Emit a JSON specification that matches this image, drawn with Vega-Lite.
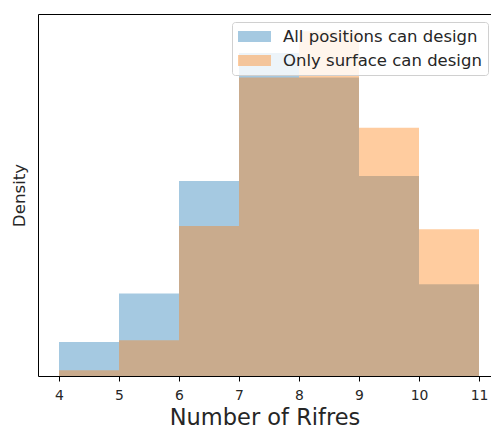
{
  "$schema": "https://vega.github.io/schema/vega-lite/v6.json",
  "autosize": {"type": "none"},
  "padding": {"left": 38, "top": 14, "right": 0, "bottom": 55},
  "width": 453,
  "height": 362,
  "background": "white",
  "config": {
    "view": {"stroke": "#000000", "strokeWidth": 1},
    "font": "DejaVu Sans"
  },
  "data": {
    "values": [
      {"series": "All positions can design", "bin_start": 4, "bin_end": 5, "density": 0.0277},
      {"series": "All positions can design", "bin_start": 5, "bin_end": 6, "density": 0.0672},
      {"series": "All positions can design", "bin_start": 6, "bin_end": 7, "density": 0.1589},
      {"series": "All positions can design", "bin_start": 7, "bin_end": 8, "density": 0.2632},
      {"series": "All positions can design", "bin_start": 8, "bin_end": 9, "density": 0.2432},
      {"series": "All positions can design", "bin_start": 9, "bin_end": 10, "density": 0.1630},
      {"series": "All positions can design", "bin_start": 10, "bin_end": 11, "density": 0.0747},
      {"series": "Only surface can design", "bin_start": 4, "bin_end": 5, "density": 0.0046},
      {"series": "Only surface can design", "bin_start": 5, "bin_end": 6, "density": 0.0291},
      {"series": "Only surface can design", "bin_start": 6, "bin_end": 7, "density": 0.1222},
      {"series": "Only surface can design", "bin_start": 7, "bin_end": 8, "density": 0.2432},
      {"series": "Only surface can design", "bin_start": 8, "bin_end": 9, "density": 0.2809},
      {"series": "Only surface can design", "bin_start": 9, "bin_end": 10, "density": 0.2024},
      {"series": "Only surface can design", "bin_start": 10, "bin_end": 11, "density": 0.1196}
    ]
  },
  "mark": {"type": "bar", "opacity": 0.4, "strokeWidth": 0},
  "encoding": {
    "x": {
      "field": "bin_start",
      "type": "quantitative",
      "scale": {"domain": [3.65, 11.2], "nice": false, "zero": false},
      "axis": {
        "title": "Number of Rifres",
        "values": [4, 5, 6, 7, 8, 9, 10, 11],
        "format": "d",
        "grid": false,
        "domain": false,
        "tickColor": "#000000",
        "tickSize": 5,
        "tickWidth": 1,
        "labelFont": "DejaVu Sans",
        "labelFontSize": 13.9,
        "labelColor": "#262626",
        "labelPadding": 7,
        "titleFont": "DejaVu Sans",
        "titleFontSize": 22.5,
        "titleFontWeight": "normal",
        "titleColor": "#262626",
        "titlePadding": 5
      }
    },
    "x2": {"field": "bin_end"},
    "y": {
      "field": "density",
      "type": "quantitative",
      "stack": null,
      "scale": {"domain": [0, 0.295], "nice": false},
      "axis": {
        "title": "Density",
        "ticks": false,
        "labels": false,
        "grid": false,
        "domain": false,
        "titleFont": "DejaVu Sans",
        "titleFontSize": 16.7,
        "titleFontWeight": "normal",
        "titleColor": "#262626",
        "titlePadding": 10
      }
    },
    "y2": {"datum": 0},
    "color": {
      "field": "series",
      "type": "nominal",
      "scale": {
        "domain": ["All positions can design", "Only surface can design"],
        "range": ["#1f77b4", "#ff7f0e"]
      },
      "legend": {
        "title": null,
        "orient": "none",
        "legendX": 194,
        "legendY": 8,
        "fillColor": "rgba(255,255,255,0.8)",
        "strokeColor": "#d0d0d0",
        "cornerRadius": 3,
        "padding": 6,
        "symbolType": "M-2,-0.667H2V0.667H-2Z",
        "symbolSize": 272,
        "symbolOffset": 8,
        "symbolOpacity": 0.4,
        "symbolStrokeWidth": 0,
        "labelFont": "DejaVu Sans",
        "labelFontSize": 16.5,
        "labelColor": "#262626",
        "labelOffset": 20,
        "labelLimit": 400,
        "rowPadding": 7
      }
    }
  }
}
